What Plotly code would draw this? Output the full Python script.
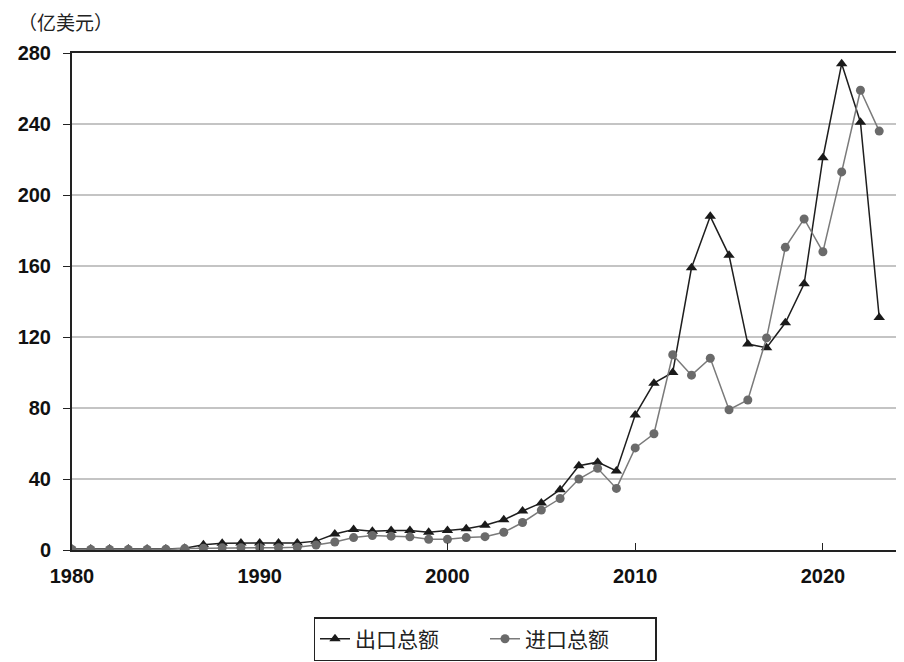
import plotly.graph_objects as go

years = list(range(1980, 2024))
export_total = [0.5, 0.5, 0.5, 0.5, 0.5, 0.6, 1.0, 3.0, 3.8, 4.0,
                4.0, 4.0, 4.0, 5.0, 9.0, 11.5, 10.5, 11.0, 11.0, 10.0,
                11.0, 12.0, 14.0, 17.0, 22.0, 26.5, 34.0, 47.5, 49.5, 44.5,
                76, 94, 100, 159, 188, 166, 116, 114, 128, 150,
                221, 274, 241, 131]
import_total = [0.3, 0.3, 0.3, 0.3, 0.3, 0.4, 0.8, 1.0, 1.2, 1.3,
                1.3, 1.3, 1.5, 2.8, 4.5, 7.0, 8.2, 7.8, 7.4, 6.0,
                6.0, 7.0, 7.5, 10.0, 15.5, 22.5, 29.0, 40.0, 46.0, 34.7,
                57.5, 65.5, 110, 98.5, 108, 79, 84.5, 119.5, 170.5, 186.5,
                168, 213, 259, 236]
series_names = ["出口总额", "进口总额"]
y_unit = "（亿美元）"
x_ticks = [1980, 1990, 2000, 2010, 2020]
y_ticks = [0, 40, 80, 120, 160, 200, 240, 280]

cjk = "Noto Sans CJK SC"

fig = go.Figure()
fig.add_trace(go.Scatter(
    x=years, y=export_total, name=series_names[0], mode="lines+markers",
    line=dict(color="#1e1e1e", width=1.5),
    marker=dict(symbol="triangle-up", size=10, color="#1a1a1a"),
))
fig.add_trace(go.Scatter(
    x=years, y=import_total, name=series_names[1], mode="lines+markers",
    line=dict(color="#7a7a7a", width=1.5),
    marker=dict(symbol="circle", size=9, color="#6a6a6a"),
))

fig.update_layout(
    width=904, height=662,
    margin=dict(l=64, r=14, t=45, b=120, autoexpand=False),
    paper_bgcolor="white", plot_bgcolor="white",
    showlegend=True,
    legend=dict(
        orientation="h", x=0.5, xanchor="center", y=-0.135, yanchor="top",
        bordercolor="#222", borderwidth=1.5,
        font=dict(family=cjk, size=21, color="#222"),
        entrywidth=125, entrywidthmode="pixels",
        tracegroupgap=0,
    ),
    xaxis=dict(
        range=[1980, 2024], tickvals=x_ticks, ticks="inside", ticklen=7,
        tickcolor="#222", showgrid=False, showline=True, linecolor="#222",
        linewidth=2, mirror=True, zeroline=False, automargin=False,
        ticklabelstandoff=7,
        tickfont=dict(family="Liberation Sans", size=20, color="#111", weight="bold"),
    ),
    yaxis=dict(
        range=[0, 280], tickvals=y_ticks, ticks="outside", ticklen=7,
        tickcolor="#222", showgrid=True, gridcolor="#c4c4c4", gridwidth=1.5,
        showline=True, linecolor="#222", linewidth=2, mirror=True,
        zeroline=False, automargin=False, ticklabelstandoff=8,
        tickfont=dict(family="Liberation Sans", size=20, color="#111", weight="bold"),
    ),
    annotations=[dict(
        text=y_unit, xref="paper", yref="paper", x=-0.068, y=1.0624,
        xanchor="left", yanchor="middle", showarrow=False,
        font=dict(family=cjk, size=19, color="#222"),
    )],
)

fig.write_html("out.html")
